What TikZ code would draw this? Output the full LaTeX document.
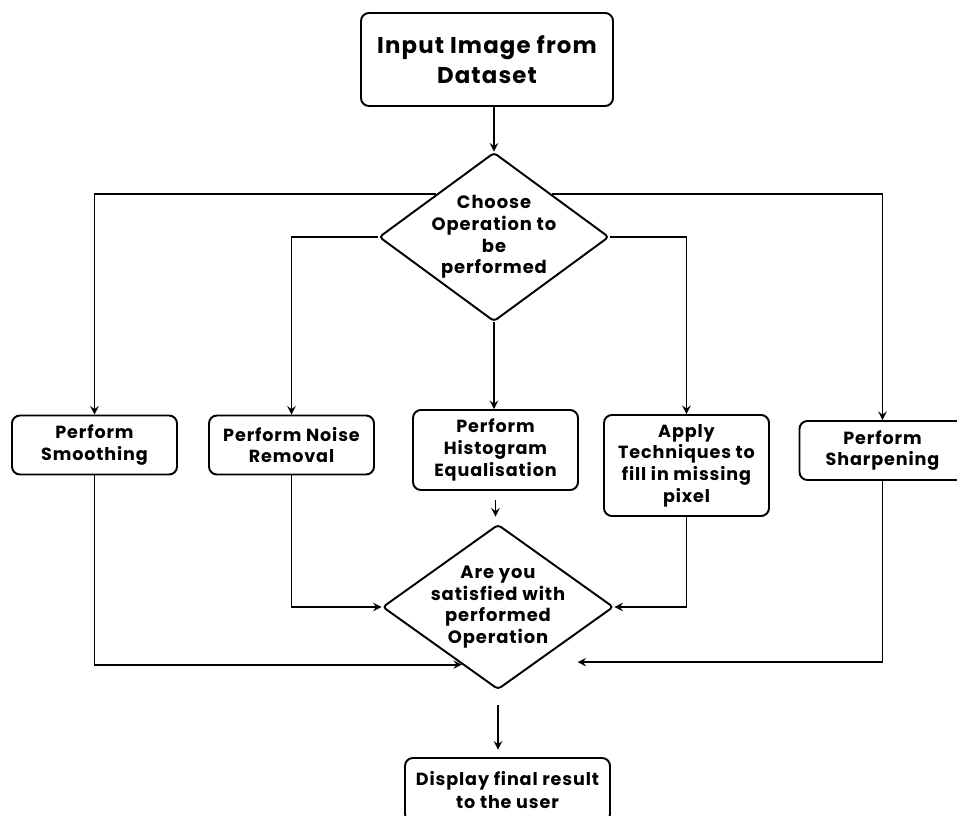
\documentclass[tikz,border=0pt]{standalone}
\usepackage{fontspec}
\setmainfont{Poppins}[LetterSpace=5]
\usetikzlibrary{shapes.geometric,calc}

\begin{document}
\begin{tikzpicture}[>=stealth,line width=1.1pt,
	box/.style={draw,rounded corners=4.5pt,align=center,
		font=\bfseries\fontsize{10}{12.3}\selectfont,
		minimum width=3.3cm,minimum height=1.18cm},
	choice/.style={draw,diamond,rounded corners=2pt,align=center,
		inner sep=-8pt,font=\bfseries\fontsize{10.2}{12.3}\selectfont}]
	\useasboundingbox (0,0) rectangle (19.14,-16.32);
	\fill[white] (0,0) rectangle (19.14,-16.32);

	\node[box,minimum width=5.04cm,minimum height=1.86cm,
		font=\bfseries\fontsize{13}{17}\selectfont] (inp) at (9.74,-1.19)
		{Input Image from\\Dataset};
	\node[choice,minimum width=4.6cm,minimum height=3.38cm] (d1) at (9.88,-4.74)
		{Choose\\Operation to\\be\\performed};

	\node[box] (smooth) at (1.89,-8.9) {Perform\\Smoothing};
	\node[box] (noise) at (5.83,-8.9) {Perform Noise\\Removal};
	\node[box,minimum height=1.6cm] (hist) at (9.91,-9.0)
		{Perform\\Histogram\\Equalisation};
	\node[box,minimum height=2.02cm] (apply) at (13.73,-9.31)
		{Apply\\Techniques to\\fill in missing\\pixel};
	\node[box,minimum width=3.32cm] (sharp) at (17.65,-9.01)
		{Perform\\Sharpening};

	\node[choice,minimum width=4.62cm,minimum height=3.3cm] (d2) at (9.96,-12.14)
		{Are you\\satisfied with\\performed\\Operation};
	\node[box,minimum width=4.1cm,minimum height=1.28cm,
		font=\bfseries\fontsize{10}{13.5}\selectfont] (disp) at (10.15,-15.8)
		{Display final result\\to the user};

	% from the input down to the first choice
	\draw[->] (inp.south -| d1.north) -- (d1.north);
	\draw[->] (d1.north west) -| (smooth.north);
	\draw[->] (d1.west) -| (noise.north);
	\draw[->] (d1.south) -- (d1.south |- hist.north);
	\draw[->] (d1.east) -| (apply.north);
	\draw[->] (d1.north east) -| (sharp.north);

	% back into the second choice
	\draw[->] (smooth.south) |- ($(d2.west)!.69!(d2.south)$);
	\draw[->] (noise.south) |- (d2.west);
	\draw[->,shorten <=5pt,shorten >=0.14cm] (hist.south) -- (hist.south |- d2.north);
	\draw[->] (apply.south) |- (d2.east);
	\draw[->,shorten >=0.8cm] (sharp.south) |- ($(d2.east)!.66!(d2.south)$);

	\draw[->,shorten <=0.3cm,shorten >=0.15cm] (d2.south) -- (d2.south |- disp.north);
\end{tikzpicture}
\end{document}
